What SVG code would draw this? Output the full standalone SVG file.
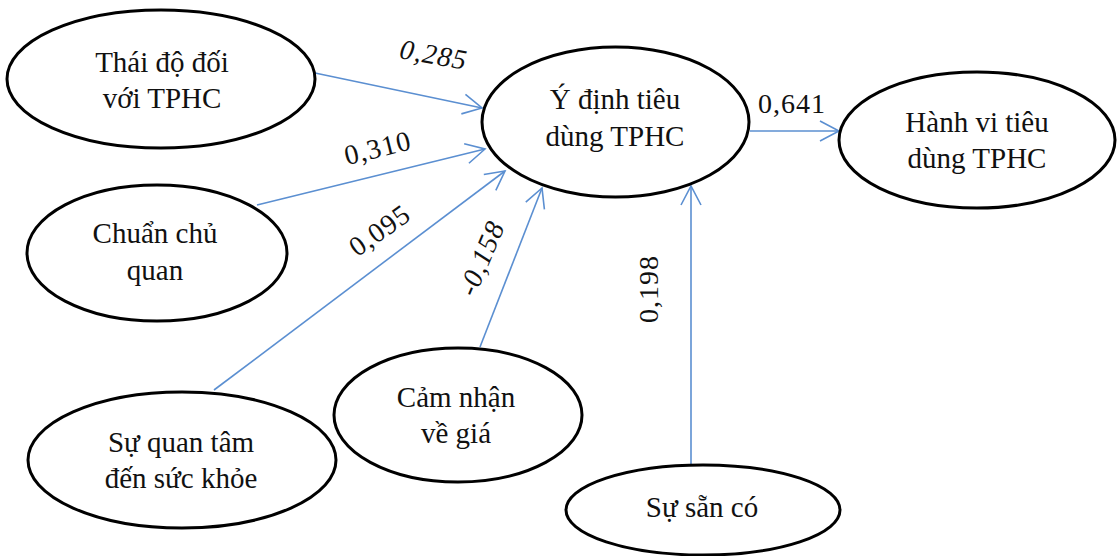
<svg xmlns="http://www.w3.org/2000/svg" width="1120" height="556" viewBox="0 0 1120 556" font-family="'Liberation Serif', 'Times New Roman', 'DejaVu Serif', serif">
<defs>
<style>
text{font-family:'Liberation Serif','Times New Roman','DejaVu Serif',serif}
.node ellipse{fill:#fff;stroke:#000;stroke-width:3}
.node text{font-size:29px;fill:#111;text-anchor:middle}
.edge{stroke:#5b8fd1;stroke-width:1.6;fill:none;marker-end:url(#arr)}
.lbl{font-size:28px;fill:#111;text-anchor:middle;letter-spacing:1px}
.it{font-style:italic}
</style>
<marker id="arr" markerUnits="userSpaceOnUse" markerWidth="24" markerHeight="24" viewBox="-22 -12 24 24" refX="0" refY="0" orient="auto">
<path d="M-19,-10 L0,0 L-19,10" fill="none" stroke="#5b8fd1" stroke-width="1.6"/>
</marker>
</defs>
<rect width="1120" height="556" fill="#fff"/>
<g id="connectors">
<line class="edge" x1="315" y1="73" x2="482" y2="108"/>
<line class="edge" x1="257" y1="205" x2="485" y2="149"/>
<line class="edge" x1="214" y1="390" x2="505" y2="171"/>
<line class="edge" x1="480" y1="347" x2="542" y2="188"/>
<line class="edge" x1="691" y1="465" x2="691" y2="186"/>
<line class="edge" x1="750" y1="131" x2="839" y2="131"/>
<text class="lbl it" transform="translate(432,64) rotate(10)">0,285</text>
<text class="lbl" transform="translate(380,157) rotate(-14)">0,310</text>
<text class="lbl" transform="translate(385,238) rotate(-35)">0,095</text>
<text class="lbl it" transform="translate(490,262) rotate(-67)">-0,158</text>
<text class="lbl" transform="translate(658,289) rotate(-90)">0,198</text>
<text class="lbl" x="792" y="113">0,641</text>
</g>
<g id="n-thaido" class="node">
<ellipse cx="161" cy="79" rx="154" ry="69"/>
<text x="162" y="72">Thái độ đối</text>
<text x="162" y="108">với TPHC</text>
</g>
<g id="n-chuan" class="node">
<ellipse cx="157" cy="253" rx="130" ry="68"/>
<text x="155" y="243">Chuẩn chủ</text>
<text x="155" y="280">quan</text>
</g>
<g id="n-suquantam" class="node">
<ellipse cx="182" cy="460" rx="154" ry="68"/>
<text x="181" y="452">Sự quan tâm</text>
<text x="181" y="488">đến sức khỏe</text>
</g>
<g id="n-camnhan" class="node">
<ellipse cx="458" cy="415" rx="124" ry="67"/>
<text x="456" y="407">Cảm nhận</text>
<text x="456" y="443">về giá</text>
</g>
<g id="n-ydinh" class="node">
<ellipse cx="615.5" cy="122" rx="133.5" ry="75"/>
<text x="615" y="109">Ý định tiêu</text>
<text x="615" y="146">dùng TPHC</text>
</g>
<g id="n-hanhvi" class="node">
<ellipse cx="977" cy="140" rx="138" ry="68"/>
<text x="977" y="132">Hành vi tiêu</text>
<text x="977" y="168">dùng TPHC</text>
</g>
<g id="n-sussanco" class="node">
<ellipse cx="703" cy="510" rx="137" ry="45"/>
<text x="702" y="517">Sự sẵn có</text>
</g>
</svg>
